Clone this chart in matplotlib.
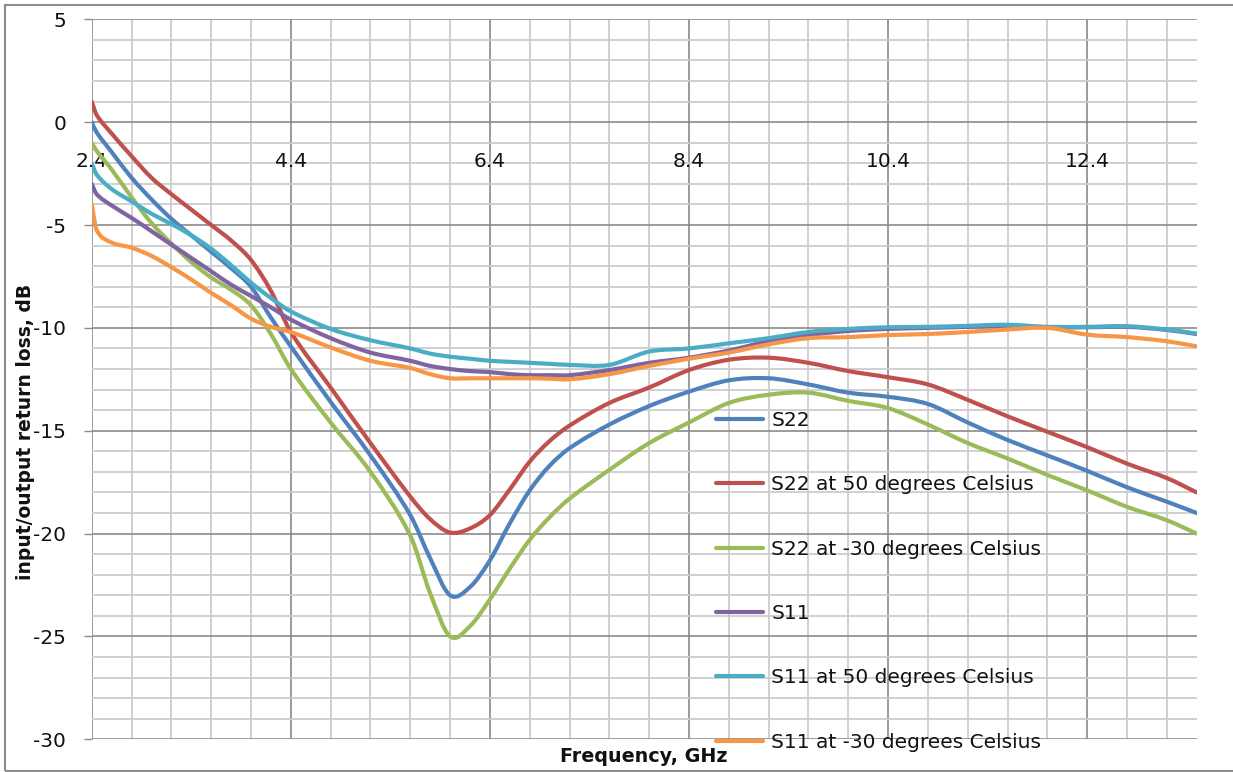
import numpy as np
import matplotlib
matplotlib.use("Agg")
import matplotlib.pyplot as plt
from matplotlib.path import Path
from matplotlib.patches import PathPatch, Rectangle
from matplotlib.lines import Line2D
from matplotlib.ticker import FixedLocator, MultipleLocator

plt.rcParams["font.family"] = ["DejaVu Sans"]
plt.rcParams["axes.unicode_minus"] = False

# Frequency points, GHz
freq = [2.4, 2.45, 2.6, 2.8, 3.0, 3.2, 3.4, 3.6, 3.8, 4.0, 4.2, 4.4, 4.8, 5.2,
        5.6, 5.8, 6.0, 6.2, 6.4, 6.6, 6.8, 7.0, 7.2, 7.6, 8.0, 8.4, 8.8, 9.2,
        9.6, 10.0, 10.4, 10.8, 11.2, 11.6, 12.0, 12.4, 12.8, 13.2, 13.5]

# Return loss, dB
s22 = [0.0, -0.5, -1.45, -2.7, -3.75, -4.7, -5.5, -6.3, -7.1, -8.0, -9.5,
       -10.9, -13.6, -16.2, -19.1, -21.2, -23.0, -22.6, -21.3, -19.5, -17.9,
       -16.7, -15.85, -14.7, -13.8, -13.1, -12.55, -12.45, -12.75, -13.15,
       -13.35, -13.7, -14.6, -15.45, -16.2, -16.95, -17.75, -18.45, -19.0]
s22_hot = [1.0, 0.35, -0.55, -1.65, -2.7, -3.5, -4.25, -5.0, -5.75, -6.7,
           -8.2, -10.2, -12.9, -15.6, -18.2, -19.3, -19.95, -19.75, -19.1,
           -17.85, -16.5, -15.5, -14.75, -13.65, -12.9, -12.05, -11.55, -11.45,
           -11.7, -12.1, -12.4, -12.75, -13.5, -14.3, -15.05, -15.8, -16.6,
           -17.3, -18.0]
s22_cold = [-1.0, -1.4, -2.3, -3.65, -4.9, -5.9, -6.8, -7.55, -8.15, -8.9,
            -10.3, -12.0, -14.6, -17.0, -20.1, -22.9, -25.0, -24.5, -23.2,
            -21.7, -20.3, -19.2, -18.3, -16.9, -15.6, -14.6, -13.65, -13.25,
            -13.15, -13.55, -13.9, -14.7, -15.6, -16.35, -17.15, -17.9, -18.7,
            -19.35, -20.0]
s11 = [-3.0, -3.5, -4.05, -4.65, -5.3, -5.95, -6.6, -7.25, -7.9, -8.45, -9.0,
       -9.6, -10.5, -11.2, -11.6, -11.85, -12.0, -12.1, -12.15, -12.25, -12.3,
       -12.3, -12.3, -12.05, -11.7, -11.45, -11.1, -10.65, -10.35, -10.15,
       -10.05, -10.0, -9.95, -9.9, -9.97, -9.97, -9.95, -10.1, -10.3]
s11_hot = [-2.0, -2.55, -3.25, -3.85, -4.45, -4.95, -5.5, -6.15, -6.95, -7.8,
           -8.55, -9.2, -10.05, -10.6, -11.0, -11.25, -11.4, -11.5, -11.6,
           -11.65, -11.7, -11.75, -11.8, -11.8, -11.15, -11.0, -10.75, -10.5,
           -10.2, -10.05, -9.97, -9.95, -9.9, -9.85, -9.95, -9.95, -9.92,
           -10.08, -10.28]
s11_cold = [-4.0, -5.25, -5.85, -6.1, -6.5, -7.05, -7.65, -8.3, -8.9, -9.55,
            -9.95, -10.2, -10.95, -11.6, -11.95, -12.25, -12.45, -12.45, -12.45,
            -12.45, -12.45, -12.47, -12.5, -12.25, -11.85, -11.5, -11.2, -10.8,
            -10.5, -10.45, -10.35, -10.3, -10.2, -10.08, -10.0, -10.33, -10.45,
            -10.65, -10.9]

labels = ["S22", "S22 at 50 degrees Celsius", "S22 at -30 degrees Celsius",
          "S11", "S11 at 50 degrees Celsius", "S11 at -30 degrees Celsius"]
colors = ["#4F81BD", "#C0504D", "#9BBB59", "#8064A2", "#4BACC6", "#F79646"]
series = [s22, s22_hot, s22_cold, s11, s11_hot, s11_cold]

x_tick_labels = ["2.4", "4.4", "6.4", "8.4", "10.4", "12.4"]


def smooth_path(xs, ys):
    """Cubic Bezier path through every point, tangents from neighbouring slopes."""
    x = np.asarray(xs, float)
    y = np.asarray(ys, float)
    n = len(x)
    m = np.empty(n)
    m[0] = (y[1] - y[0]) / (x[1] - x[0])
    m[-1] = (y[-1] - y[-2]) / (x[-1] - x[-2])
    m[1:-1] = (y[2:] - y[:-2]) / (x[2:] - x[:-2])
    verts = [(x[0], y[0])]
    codes = [Path.MOVETO]
    for i in range(n - 1):
        h = x[i + 1] - x[i]
        verts += [(x[i] + h / 3, y[i] + m[i] * h / 3),
                  (x[i + 1] - h / 3, y[i + 1] - m[i + 1] * h / 3),
                  (x[i + 1], y[i + 1])]
        codes += [Path.CURVE4] * 3
    return Path(verts, codes)


W, H = 1233, 772
fig = plt.figure(figsize=(W / 100, H / 100), dpi=100)
ax = fig.add_axes([91.7 / W, (H - 739.3) / H, 1105 / W, 720 / H])
ax.set_xlim(2.4, 13.5)
ax.set_ylim(-30, 5)

# grid: 0.4 GHz / 1 dB minor, 2 GHz / 5 dB major
ax.xaxis.set_major_locator(FixedLocator(np.arange(2.4, 13.5, 2.0)))
ax.xaxis.set_minor_locator(FixedLocator(np.arange(2.4, 13.45, 0.4)))
ax.yaxis.set_major_locator(MultipleLocator(5))
ax.yaxis.set_minor_locator(MultipleLocator(1))
ax.grid(which="minor", color="#cdcdcd", lw=1.3, zorder=0)
ax.grid(which="major", color="#8a8a8a", lw=1.2, zorder=0.5)
ax.set_axisbelow(True)
for sp in ax.spines.values():
    sp.set_visible(False)

ax.tick_params(axis="x", which="both", length=0, labelbottom=False)
ax.tick_params(axis="y", which="major", length=6, width=1, color="#8a8a8a",
               labelsize=14.5, pad=12.5, labelcolor="#111111")
ax.tick_params(axis="y", which="minor", length=0)

# category-style labels sitting under the 0 dB line
for lab in x_tick_labels:
    ax.annotate(lab, xy=(float(lab), 0), xytext=(0, -28), textcoords="offset points",
                ha="center", va="center", fontsize=14.5, color="#111111",
                annotation_clip=False)

handles = []
for ys, c, lab in zip(series, colors, labels):
    patch = PathPatch(smooth_path(freq, ys), fill=False, edgecolor=c, lw=3,
                      capstyle="round", joinstyle="round", zorder=3)
    ax.add_patch(patch)
    handles.append(Line2D([], [], color=c, lw=3, solid_capstyle="round"))

ax.legend(handles, labels, loc="upper left",
          bbox_to_anchor=(716 / W, (H - 411) / H), bbox_transform=fig.transFigure,
          frameon=False, fontsize=14.5, borderpad=0, borderaxespad=0,
          handlelength=2.35, handletextpad=0.4, labelspacing=2.25,
          labelcolor="#111111")

fig.text(26 / W, (H - 432) / H, "input/output return loss, dB", rotation=90,
         ha="center", va="center", fontsize=13.5, fontweight="bold", color="#111111")
fig.text(644 / W, (H - 757) / H, "Frequency, GHz", ha="center", va="center",
         fontsize=13.8, fontweight="bold", color="#111111")

fig.add_artist(Rectangle((5 / W, 1.3 / H), 1.2, (767 - 1.3) / H,
                         transform=fig.transFigure, fill=False,
                         edgecolor="#8c8c8c", lw=1.5, clip_on=False))

fig.savefig("out.png", dpi=100)
